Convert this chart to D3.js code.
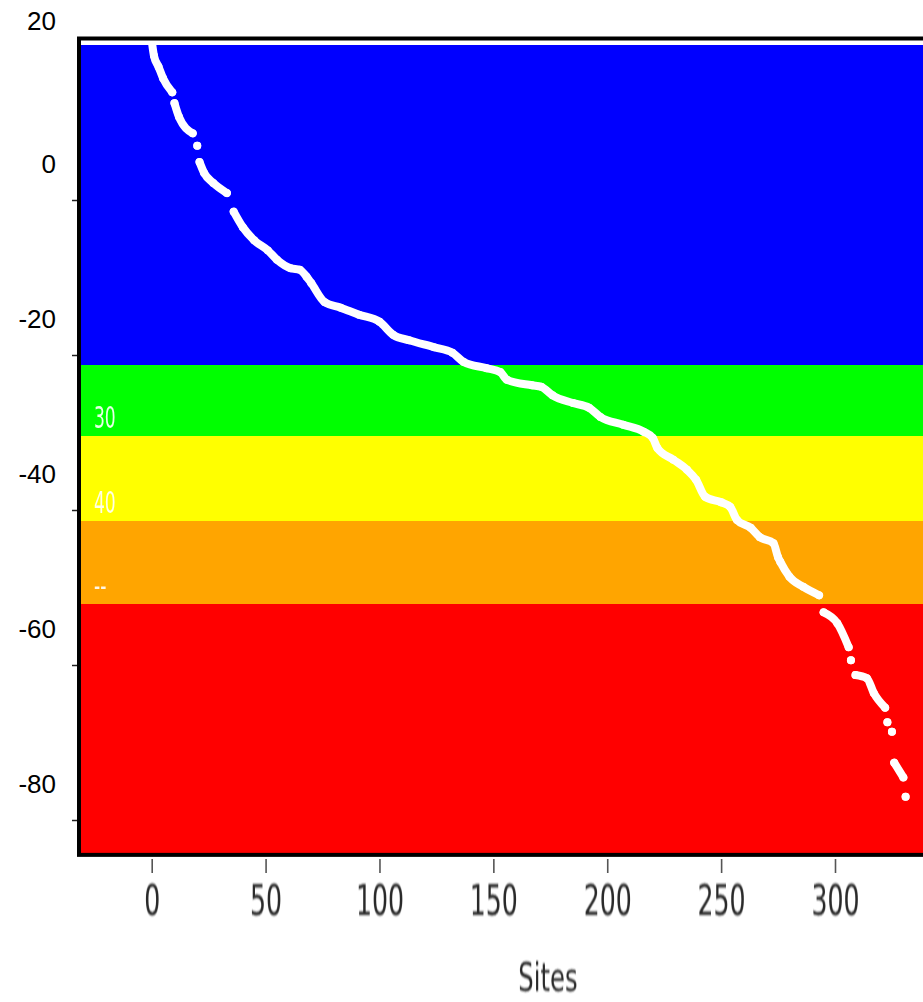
<!DOCTYPE html>
<html>
<head>
<meta charset="utf-8">
<style>
  body { margin: 0; background: #fff; }
  svg { display: block; }
</style>
</head>
<body>
<div id="chart"></div>
<script src="https://d3js.org/d3.v7.min.js"></script>
<script>
// sorted values per site. null = visible break in the dotted trace
const sites = [0, 1, 3, 5, 9, null,
  10, 12, 18, null,
  20, null,
  21, 23, 27, 33, null,
  36, 40, 45, 51, 55, 61, 65, 68, 70, 76, 83, 91, 100, 106, 113, 124, 132, 137, 147, 153,
  156, 167, 171, 176, 185, 192, 197, 207, 216, 220, 222, 229, 235, 239, 243, 250, 254, 257,
  263, 267, 273, 275, 276, 280, 286, 293, null,
  295, 301, 306, null,
  307, null,
  309, 314, 317, 322, null,
  323, null,
  325, null,
  326, 330, null,
  331];
const values = [20.6, 18.6, 17.2, 15.7, 13.9, null,
  12.5, 10.7, 8.6, null,
  7.0, null,
  4.9, 3.5, 2.2, 0.9, null,
  -1.5, -3.5, -5.2, -6.5, -7.7, -8.8, -9.0, -9.9, -10.7, -13.2, -13.9, -14.8, -15.7, -17.4, -18.1, -19.0, -19.7, -20.9, -21.7, -22.2,
  -23.2, -23.9, -24.1, -25.2, -26.2, -26.8, -28.0, -29.0, -29.9, -30.7, -32.0, -33.5, -34.8, -36.1, -38.3, -39.0, -39.6, -41.3,
  -42.3, -43.5, -44.3, -46.1, -46.7, -48.6, -49.9, -51.0, null,
  -53.2, -54.6, -57.7, null,
  -59.4, null,
  -61.3, -61.7, -63.6, -65.5, null,
  -67.4, null,
  -68.6, null,
  -72.6, -74.5, null,
  -77.0];

// colour bands, top to bottom
const bandTops    = [20, -21.3, -30.5, -41.4, -52.1];
const bandBottoms = [-21.3, -30.5, -41.4, -52.1, -84.5];
const bandColors  = ["#0000ff", "#00ff00", "#ffff00", "#ffa500", "#ff0000"];
const bandLabels  = ["", "30", "40", "--", ""];

const xTicks = [0, 50, 100, 150, 200, 250, 300];
const yTicks = [20, 0, -20, -40, -60, -80];
const xTitle = "Sites";

const width = 923;
const height = 1002;

const svg = d3.select("#chart").append("svg")
    .attr("width", width)
    .attr("height", height)
    .style("background-color", "#fff");

const x = d3.scaleLinear().domain([0, 300]).range([151.7, 835]);
const y = d3.scaleLinear().domain([0, -80]).range([200, 820]);

// panel edges
const panelLeft = 81, panelRight = 940, panelTop = y(20), panelBottom = y(-84.5);

const defs = svg.append("defs");
defs.append("clipPath").attr("id", "panel")
  .append("rect")
    .attr("x", panelLeft).attr("y", panelTop)
    .attr("width", panelRight - panelLeft).attr("height", panelBottom - panelTop);
defs.append("filter").attr("id", "soft")
  .append("feGaussianBlur").attr("stdDeviation", 0.6);

// bands
const bands = bandColors.map((c, i) => ({top: bandTops[i], bottom: bandBottoms[i], color: c, label: bandLabels[i]}));
svg.append("g")
  .selectAll("rect")
  .data(bands)
  .join("rect")
    .attr("x", panelLeft)
    .attr("y", d => y(d.top))
    .attr("width", panelRight - panelLeft)
    .attr("height", d => y(d.bottom) - y(d.top))
    .attr("fill", d => d.color)
    .attr("shape-rendering", "crispEdges");

// leftover white labels inside the bands
svg.append("g")
  .selectAll("text")
  .data(bands.filter(d => d.label))
  .join("text")
    .attr("transform", d => `translate(94,${y(d.bottom) - 8}) scale(1,1.6)`)
    .attr("fill", "#fff")
    .attr("opacity", 0.9)
    .style("font-family", "'Liberation Sans Narrow', 'DejaVu Sans Condensed', sans-serif")
    .style("font-size", "19px")
    .text(d => d.label);

// the sorted trace
const pts = sites.map((s, i) => ({s: s, v: values[i]}));
const line = d3.line()
    .defined(d => d.v !== null)
    .curve(d3.curveMonotoneX)
    .x(d => x(d.s))
    .y(d => y(d.v));

const trace = svg.append("g").attr("clip-path", "url(#panel)");
trace.append("path")
    .datum(pts)
    .attr("d", line)
    .attr("fill", "none")
    .attr("stroke", "#fff")
    .attr("stroke-width", 8)
    .attr("stroke-linecap", "round")
    .attr("stroke-linejoin", "round");
trace.selectAll("circle")
  .data(pts.filter(d => d.v !== null))
  .join("circle")
    .attr("cx", d => x(d.s))
    .attr("cy", d => y(d.v))
    .attr("r", 4)
    .attr("fill", "#fff");

// frame
svg.append("rect")
    .attr("x", 79).attr("y", 38.5)
    .attr("width", 900).attr("height", panelBottom - 38.5)
    .attr("fill", "none")
    .attr("stroke", "#000")
    .attr("stroke-width", 4);

// y axis: ticks at the scale, labels sit above them as in the original
const yAxis = svg.append("g")
    .attr("transform", "translate(77,0)")
    .call(d3.axisLeft(y).tickValues(yTicks).tickSize(5).tickFormat(d => String(d)));
yAxis.select(".domain").remove();
yAxis.selectAll(".tick line")
    .attr("stroke", "#222")
    .attr("stroke-width", 1.5)
    .attr("opacity", d => d === 20 ? 0 : 1);
yAxis.selectAll(".tick text")
    .attr("x", -21)
    .attr("y", d => d === 20 ? -25 : -37)
    .attr("dy", "0.35em")
    .attr("fill", "#000")
    .style("font-family", "'Liberation Sans', Arial, sans-serif")
    .style("font-size", "26px");

// x axis
const xAxis = svg.append("g")
    .attr("transform", "translate(0,859)")
    .call(d3.axisBottom(x).tickValues(xTicks).tickSize(14));
xAxis.select(".domain").remove();
xAxis.selectAll(".tick line")
    .attr("stroke", "#555")
    .attr("stroke-width", 1.6);
xAxis.selectAll(".tick text")
    .attr("y", 0)
    .attr("dy", 0)
    .attr("transform", "translate(0,56) scale(1,1.5)")
    .attr("fill", "#2a2a2a")
    .attr("filter", "url(#soft)")
    .style("font-family", "'Liberation Sans Narrow', 'DejaVu Sans Condensed', sans-serif")
    .style("font-size", "28px");

svg.append("text")
    .attr("transform", "translate(548,991) scale(1,1.45)")
    .attr("text-anchor", "middle")
    .attr("fill", "#2a2a2a")
    .attr("filter", "url(#soft)")
    .style("font-family", "'Liberation Sans Narrow', 'DejaVu Sans Condensed', sans-serif")
    .style("font-size", "27px")
    .text(xTitle);
</script>
</body>
</html>
